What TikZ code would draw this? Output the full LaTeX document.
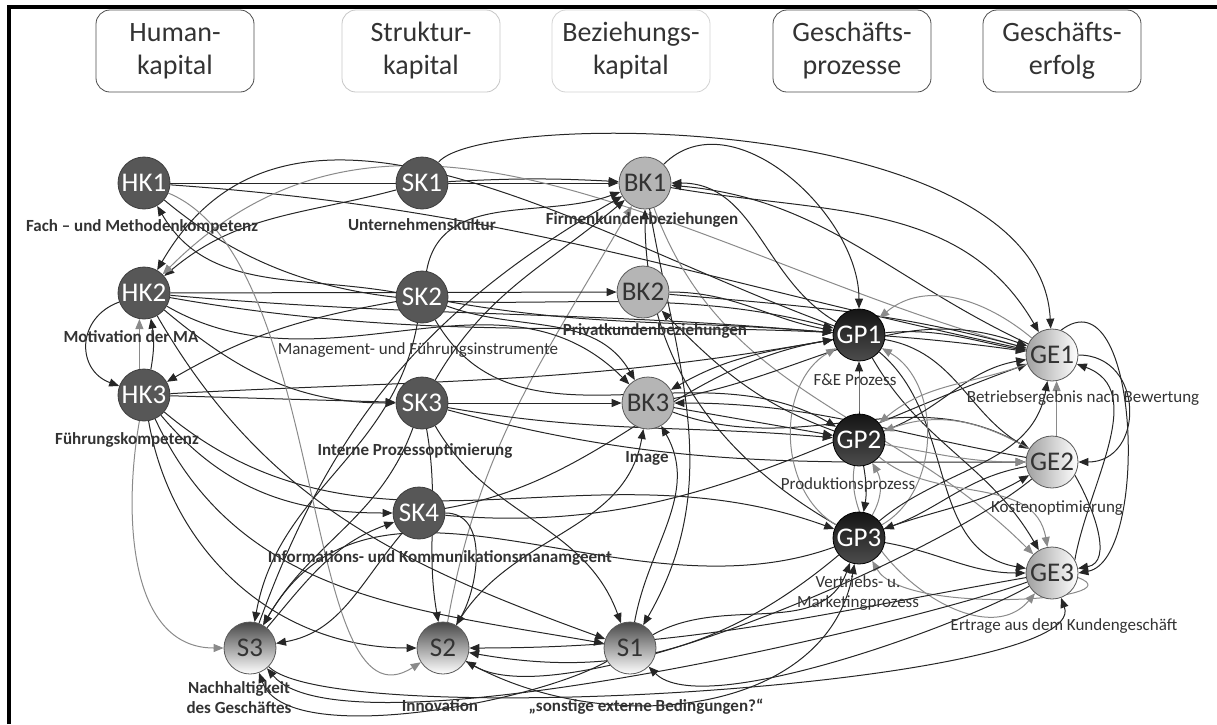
\documentclass[tikz,border=0pt]{standalone}
\usepackage{fontspec}
\setmainfont{Carlito}
\usetikzlibrary{arrows.meta}
\pgfdeclarelayer{bg}
\pgfsetlayers{bg,main}
\definecolor{kapdark}{HTML}{575757}
\definecolor{kaplight}{HTML}{B5B5B5}
\definecolor{edgegray}{HTML}{8A8A8A}
\definecolor{labelgray}{HTML}{333333}

\begin{document}
\begin{tikzpicture}[x=0.5pt, y=-0.5pt,
  kbox/.style={draw, rounded corners=7pt, minimum width=79pt, minimum height=41pt, align=center, text=labelgray, font=\fontsize{14}{16.5}\selectfont},
  knode/.style={circle, minimum size=26pt, inner sep=0pt, font=\fontsize{13.5}{15}\selectfont},
  hknode/.style={knode, fill=kapdark, draw=kapdark!70!black, text=white},
  bknode/.style={knode, fill=kaplight, draw=gray!70!black, text=labelgray},
  gpnode/.style={knode, top color=black!92, bottom color=black!70, draw=black, text=white},
  genode/.style={knode, left color=gray!75, right color=white, draw=gray!70!black, text=labelgray},
  snode/.style={knode, top color=black!72, bottom color=white, draw=gray!70!black, text=labelgray},
  lbl/.style={text=labelgray, inner sep=1pt, font=\fontsize{8.5}{10}\selectfont},
  blbl/.style={text=labelgray, inner sep=1pt, font=\fontsize{8.5}{10}\selectfont\bfseries},
  arr/.style={-{Triangle[length=5pt,width=4pt]}, line width=0.5pt, black!85},
  garr/.style={arr, edgegray}]
\useasboundingbox (0,0) rectangle (1217,724);
\draw [line width=2pt] (9,724) -- (9,7) -- (1217,7);

\node [kbox, draw=black!70] (human) at (175,51) {Human-\\kapital};
\node [kbox, draw=gray!45] (struktur) at (421,51) {Struktur-\\kapital};
\node [kbox, draw=gray!35] (beziehung) at (631,51) {Beziehungs-\\kapital};
\node [kbox, draw=black!70] (prozesse) at (852,51) {Geschäfts-\\prozesse};
\node [kbox, draw=black!70] (erfolg) at (1062,51) {Geschäfts-\\erfolg};

\node [hknode] (hk1) at (144,183) {HK1};
\node [hknode] (hk2) at (144,293) {HK2};
\node [hknode] (hk3) at (144,395) {HK3};
\node [hknode] (sk1) at (422,183) {SK1};
\node [hknode] (sk2) at (422,297) {SK2};
\node [hknode] (sk3) at (422,403) {SK3};
\node [hknode] (sk4) at (419,513) {SK4};
\node [bknode] (bk1) at (645,183) {BK1};
\node [bknode] (bk2) at (643,292) {BK2};
\node [bknode] (bk3) at (648,403) {BK3};
\node [gpnode] (gp1) at (859,335) {GP1};
\node [gpnode] (gp2) at (859,440) {GP2};
\node [gpnode] (gp3) at (859,538) {GP3};
\node [genode] (ge1) at (1052,355) {GE1};
\node [genode] (ge2) at (1052,462) {GE2};
\node [genode] (ge3) at (1052,573) {GE3};
\node [snode] (s3) at (250,648) {S3};
\node [snode] (s2) at (443,648) {S2};
\node [snode] (s1) at (630,648) {S1};

\node [blbl] (lhk1) at (142,227) {Fach – und Methodenkompetenz};
\node [blbl] (lsk1) at (422,225) {Unternehmenskultur};
\node [blbl] (lbk1) at (642,220) {Firmenkundenbeziehungen};
\node [blbl] (lhk2) at (131,337) {Motivation der MA};
\node [lbl] (lsk2) at (418,350) {Management- und Führungsinstrumente};
\node [blbl] (lbk2) at (655,331) {Privatkundenbeziehungen};
\node [blbl] (lhk3) at (127,440) {Führungskompetenz};
\node [blbl] (lsk3) at (415,451) {Interne Prozessoptimierung};
\node [blbl] (lbk3) at (647,458) {Image};
\node [blbl] (lsk4) at (440,558) {Informations- und Kommunikationsmanamgeent};
\node [lbl] (lgp1) at (855,380) {F\&E Prozess};
\node [lbl] (lge1) at (1083,398) {Betriebsergebnis nach Bewertung};
\node [lbl] (lgp2) at (848,485) {Produktionsprozess};
\node [lbl] (lge2) at (1057,508) {Kostenoptimierung};
\node [lbl, align=center] (lgp3) at (858,593) {Vertriebs- u.\\Marketingprozess};
\node [lbl] (lge3) at (1064,626) {Ertrage aus dem Kundengeschäft};
\node [blbl, align=center] (ls3) at (239,698) {Nachhaltigkeit\\des Geschäftes};
\node [blbl] (ls2) at (440,706) {Innovation};
\node [blbl] (ls1) at (646,707) {„sonstige externe Bedingungen?“};

\begin{pgfonlayer}{bg}
\draw [arr] (hk1) -- (bk1);
\draw [arr] (sk1) to[bend left=3] (bk1);
\draw [arr] (hk1) to[out=-4, in=168] (ge1);
\draw [arr] (hk1) to[out=-40, in=165] (gp1);
\draw [arr] (sk1) to[out=195, in=40] (hk2);
\draw [garr] (ge1) to[out=165, in=45] (hk2);
\draw [arr] (gp1) to[out=160, in=60] (hk2);
\draw [arr] (sk2) to[out=170, in=-60] (hk1);
\draw [arr] (sk1) .. controls (480,110) and (1040,110) .. (ge1);
\draw [arr] (bk1) to[out=45, in=90] (gp1);
\draw [arr] (bk1) to[out=-10, in=120] (ge1);
\draw [arr] (gp1) to[out=150, in=0] (bk1);
\draw [arr] (ge1) to[out=155, in=-5] (bk1);
\draw [arr] (bk1) to[out=-80, in=60] (s1);
\draw [garr] (bk1) to[out=-70, in=135] (ge3);
\draw [garr] (s2) to[out=80, in=-120] (bk1);
\draw [arr] (gp3) to[out=150, in=-90] (bk1);
\draw [arr] (sk2) to[out=80, in=-160] (bk1);
\draw [arr] (s3) to[out=70, in=-150] (bk1);

\draw [arr] (hk2) -- (bk2);
\draw [arr] (hk2) to[out=-5, in=175] (gp1);
\draw [arr] (hk2) to[out=-10, in=172] (ge1);
\draw [arr] (hk2) to[out=-40, in=180] (sk3);
\draw [arr] (hk2) to[out=-30, in=135] (bk3);
\draw [arr] (hk2) to[out=200, in=160, looseness=1.4] (hk3);
\draw [arr] (hk2) to[out=-60, in=160] (s1);
\draw [arr] (hk3.75) to[bend right=10] (hk2.-75);
\draw [garr] (hk3.100) -- (hk2.-100);
\draw [arr] (sk2) to[out=190, in=30] (hk3);
\draw [arr] (bk2) to[out=0, in=170] (gp1);
\draw [arr] (bk2) to[out=-5, in=165] (ge1);
\draw [arr] (gp2) to[out=160, in=-45] (bk2);
\draw [arr] (sk2) to[out=-20, in=120] (bk3);
\draw [arr] (sk2) to[out=-10, in=175] (gp1);
\draw [arr] (sk2) to[out=-100, in=80] (s3);
\draw [arr] (sk2) to[out=-60, in=150] (gp2);

\draw [arr] (hk3) -- (sk3);
\draw [arr] (hk3) to[out=3, in=190] (gp1);
\draw [garr] (hk3) to[out=-100, in=180] (s3);
\draw [arr] (hk3) to[out=-80, in=180] (s2);
\draw [arr] (hk3) to[out=-50, in=180] (sk4);
\draw [arr] (hk3) to[out=-40, in=160] (gp3);
\draw [arr] (hk3) to[out=-65, in=170] (s1);
\draw [arr] (sk3) -- (bk3);
\draw [arr] (sk3) to[out=60, in=-140] (bk1);
\draw [arr] (sk3) to[out=-10, in=175] (gp2);
\draw [arr] (sk3) to[out=-15, in=180] (ge2);
\draw [arr] (sk3) to[out=-60, in=110] (s1);
\draw [arr] (sk3) to[out=-110, in=60] (s3);
\draw [arr] (sk3) to[out=-80, in=100] (s2);
\draw [arr] (gp1) to[out=190, in=30] (bk3);
\draw [arr] (ge2) to[out=170, in=0] (bk3);
\draw [arr] (s2) to[out=60, in=-100] (bk3);
\draw [arr] (s1) to[out=80, in=-60] (bk3);
\draw [arr] (bk3) to[out=-10, in=170] (gp2);
\draw [arr] (bk3) to[out=10, in=160] (ge1);
\draw [arr] (bk3) to[out=-20, in=150] (ge2);

\draw [arr] (sk4) to[out=0, in=60] (s2);
\draw [arr] (sk4) to[out=230, in=10] (s3);
\draw [arr] (s3) to[out=50, in=200] (sk4);
\draw [arr] (sk4) to[out=10, in=190] (gp1);
\draw [arr] (sk4) to[out=-5, in=200] (ge1);
\draw [garr] (hk1) .. controls (330,260) and (300,740) .. (s2);

\draw [arr] (gp1) to[out=5, in=170] (ge1);
\draw [arr] (gp1) to[out=-10, in=150] (ge2);
\draw [arr] (gp1) to[out=-40, in=170] (ge3);
\draw [arr] (gp1) to[out=-60, in=120] (ge3);
\draw [garr] (ge1) to[out=140, in=40] (gp1);
\draw [garr] (gp3) to[out=30, in=-30] (gp1);
\draw [garr] (gp3) to[out=150, in=-150] (gp1);
\draw [arr] (gp2) to[out=90, in=-90] (gp1);
\draw [arr] (gp2) to[out=20, in=190] (ge1);
\draw [garr] (gp2) to[out=-10, in=180] (ge2);
\draw [garr] (ge2) to[out=150, in=20] (gp2);
\draw [garr] (ge1) to[out=200, in=40] (gp2);
\draw [arr] (gp2) to[out=-80, in=80] (gp3);
\draw [garr] (gp3) to[out=60, in=-60] (gp2);
\draw [arr] (gp3) to[out=-10, in=180] (ge3);
\draw [arr] (gp3) to[out=20, in=-150] (ge2);
\draw [arr] (ge2) to[out=190, in=20] (gp3);
\draw [arr] (gp3) to[out=40, in=-100] (ge1);
\draw [arr] (gp3) to[out=200, in=60] (s3);
\draw [arr] (gp3) to[out=220, in=-10] (s2);
\draw [arr] (s1) to[out=30, in=-110] (gp3);
\draw [arr] (s2) to[out=-30, in=-100] (gp3);

\draw [arr] (ge1) to[out=0, in=0, looseness=1.6] (ge2);
\draw [arr] (ge1.70) .. controls (1140,270) and (1150,560) .. (ge3.east);
\draw [arr] (ge3.30) to[out=80, in=-20] (ge1.-20);
\draw [arr] (ge2.-30) to[out=-60, in=10] (ge3);
\draw [garr] (ge2.80) -- (ge1.-80);
\draw [garr] (gp2) to[out=-40, in=100] (ge3);
\draw [garr] (ge3.-10) to[out=-20, in=-60, looseness=0.8] (gp3);
\draw [garr] (gp2) to[out=-100, in=-130] (ge3);
\draw [arr] (s3) to[out=-45, in=-70, looseness=0.3] (ge3);
\draw [arr] (ge3) to[out=-150, in=-45, looseness=0.5] (s1);
\draw [arr] (ge2) to[out=-140, in=-30, looseness=0.5] (s2);
\draw [arr] (ge3) to[out=-160, in=-50, looseness=0.4] (s3);
\draw [arr] (s1) to[out=-150, in=-70, looseness=0.6] (s3);
\draw [arr] (ge3) to[out=190, in=0] (s2);
\end{pgfonlayer}
\end{tikzpicture}
\end{document}
